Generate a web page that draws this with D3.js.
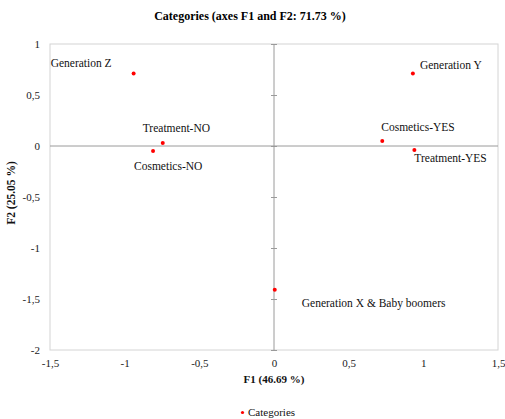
<!DOCTYPE html>
<html>
<head>
<meta charset="utf-8">
<script src="https://cdn.jsdelivr.net/npm/d3@7"></script>
<style>
html,body{margin:0;padding:0;background:#fff;}
svg{display:block;font-family:"Liberation Serif","Times New Roman",serif;}
</style>
</head>
<body>
<svg id="chart" width="505" height="419"></svg>
<script>
// ---- data ----
const categories = ["Generation Z","Treatment-NO","Cosmetics-NO","Generation Y","Cosmetics-YES","Treatment-YES","Generation X & Baby boomers"];
const f1Values = [-0.94, -0.745, -0.81, 0.93, 0.725, 0.94, 0.005];
const f2Values = [0.71, 0.03, -0.05, 0.71, 0.05, -0.04, -1.41];
const xTicks = [-1.5, -1, -0.5, 0, 0.5, 1, 1.5];
const yTicks = [1, 0.5, 0, -0.5, -1, -1.5, -2];
const chartTitle = "Categories (axes F1 and F2: 71.73 %)";
const xTitle = "F1 (46.69 %)";
const yTitle = "F2 (25.05 %)";
const legendLabel = "Categories";

// label placement (layout, px offsets from point)
const labelOffsets = [[-83,-7],[-20,-11],[-19,19],[7,-5],[-1,-10],[0,12],[27,17]];

const svg = d3.select("#chart");
const m = {left:50, right:498, top:44, bottom:350};
const x = d3.scaleLinear().domain([-1.5,1.5]).range([m.left,m.right]);
const y = d3.scaleLinear().domain([-2,1]).range([m.bottom,m.top]);
const fmt = v => String(v).replace(".", ",");

// frame
svg.append("rect").attr("x",m.left).attr("y",m.top)
  .attr("width",m.right-m.left).attr("height",m.bottom-m.top)
  .attr("fill","none").attr("stroke","#d4d4d4").attr("stroke-width",1);

// x tick labels (bottom of frame)
const xAxis = d3.axisBottom(x).tickValues(xTicks).tickFormat(fmt).tickSize(0).tickPadding(9);
const gx = svg.append("g").attr("transform",`translate(0,${m.bottom})`).call(xAxis);
gx.select(".domain").remove();
gx.selectAll("text").attr("font-size",11).attr("fill","#1a1a1a").attr("font-family","Liberation Serif");

// y tick labels (left of frame)
const yAxis = d3.axisLeft(y).tickValues(yTicks).tickFormat(fmt).tickSize(0).tickPadding(10);
const gy = svg.append("g").attr("transform",`translate(${m.left},0)`).call(yAxis);
gy.select(".domain").remove();
gy.selectAll("text").attr("font-size",11).attr("fill","#1a1a1a").attr("font-family","Liberation Serif");

// axis lines through origin
svg.append("line").attr("x1",m.left).attr("x2",m.right).attr("y1",y(0)).attr("y2",y(0))
  .attr("stroke","#9a9a9a").attr("stroke-width",1);
svg.append("line").attr("x1",x(0)).attr("x2",x(0)).attr("y1",m.top).attr("y2",m.bottom)
  .attr("stroke","#9a9a9a").attr("stroke-width",1);
// ticks on vertical axis
const yInner = d3.axisLeft(y).tickValues(yTicks).tickSize(6).tickFormat("");
const gyi = svg.append("g").attr("transform",`translate(${x(0)+3},0)`).call(yInner);
gyi.select(".domain").remove();
gyi.selectAll("line").attr("stroke","#9a9a9a");

// points
const pts = categories.map((c,i)=>({c, fx:f1Values[i], fy:f2Values[i], off:labelOffsets[i]}));
svg.selectAll("circle.pt").data(pts).join("circle").attr("class","pt")
  .attr("cx",d=>x(d.fx)).attr("cy",d=>y(d.fy)).attr("r",2).attr("fill","#ff0000");
svg.selectAll("text.lbl").data(pts).join("text").attr("class","lbl")
  .attr("x",d=>x(d.fx)+d.off[0]).attr("y",d=>y(d.fy)+d.off[1])
  .attr("font-size",11.5).attr("fill","#111").text(d=>d.c);

// titles
svg.append("text").attr("x",250).attr("y",20).attr("text-anchor","middle")
  .attr("font-size",12).attr("font-weight","bold").attr("fill","#000").text(chartTitle);
svg.append("text").attr("x",(m.left+m.right)/2).attr("y",383).attr("text-anchor","middle")
  .attr("font-size",11).attr("font-weight","bold").attr("fill","#111").text(xTitle);
svg.append("text").attr("transform",`translate(15,193) rotate(-90)`)
  .attr("text-anchor","middle").attr("font-size",11.5).attr("font-weight","bold").attr("fill","#111").text(yTitle);

// legend
svg.append("circle").attr("cx",242.5).attr("cy",412.5).attr("r",1.6).attr("fill","#ff0000");
svg.append("text").attr("x",248).attr("y",416).attr("font-size",11).attr("fill","#111").text(legendLabel);
</script>
</body>
</html>
